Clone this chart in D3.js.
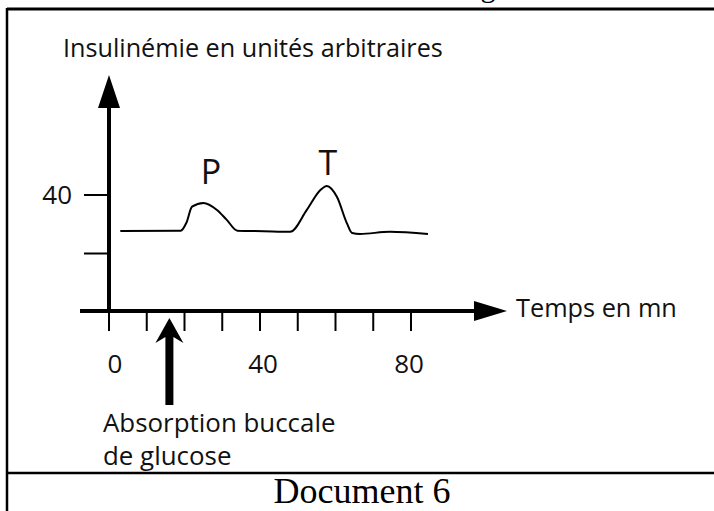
<!DOCTYPE html>
<head>
    <meta charset="UTF-8">
    <title>Document 6</title>
</head>
<style>
    body {
        margin: 0;
        background: #fff;
    }

    .sans {
        font-family: "Open Sans", sans-serif;
        fill: #111;
    }

    .serif {
        font-family: "Liberation Serif", "Times New Roman", serif;
        fill: #000;
    }
</style>
<body>

    <script src="https://cdn.jsdelivr.net/npm/d3@7"></script>
    <script>
        var temps = [3, 19, 20.5, 22, 25, 28.6, 31.2, 34, 41, 48, 52.4, 56, 57.7, 60.4, 63, 64.4, 66.5, 74.4, 84.5];
        var insuline = [27.7, 27.8, 30.5, 36, 37.3, 34.9, 31.5, 27.8, 27.6, 27.4, 34.9, 41.7, 43.1, 39.3, 30.4, 27, 26.7, 27.4, 26.7];

        var xTicks = [0, 10, 20, 30, 40, 50, 60, 70, 80];
        var xTickLabels = [0, 40, 80];
        var yTicks = [20, 40];
        var yTickLabels = [40];

        // pics annotés
        var pics = [
            {nom: "P", t: 27, v: 43.8},
            {nom: "T", t: 58, v: 46.8}
        ];

        var width = 714, height = 511;

        var svg = d3.select("body").append("svg")
            .attr("width", width)
            .attr("height", height);

        // échelles
        var x = d3.scaleLinear().domain([0, 80]).range([109, 411]);
        var y = d3.scaleLinear().domain([0, 40]).range([312, 195]);

        // cadre du tableau
        svg.append("line").attr("x1", 7).attr("x2", width).attr("y1", 9).attr("y2", 9)
            .attr("stroke", "#000").attr("stroke-width", 3);
        svg.append("line").attr("x1", 7).attr("x2", 7).attr("y1", 8).attr("y2", height)
            .attr("stroke", "#000").attr("stroke-width", 2.5);
        svg.append("line").attr("x1", 7).attr("x2", width).attr("y1", 473).attr("y2", 473)
            .attr("stroke", "#000").attr("stroke-width", 2.5);

        // reste d'un "g" coupé au-dessus du cadre
        svg.append("text").attr("class", "serif")
            .attr("x", 488).attr("y", -3)
            .attr("text-anchor", "middle")
            .style("font-size", "30px")
            .text("g");

        // axes avec flèches
        var axe = svg.append("g");
        axe.append("line")
            .attr("x1", x(0)).attr("x2", x(0))
            .attr("y1", y(0) - 1).attr("y2", 100)
            .attr("stroke", "#000").attr("stroke-width", 4);
        axe.append("path")
            .attr("d", "M" + x(0) + ",75 L" + (x(0) + 11) + ",108 L" + (x(0) - 11) + ",108 Z")
            .attr("fill", "#000");

        axe.append("line")
            .attr("x1", 80).attr("x2", 480)
            .attr("y1", 311).attr("y2", 311)
            .attr("stroke", "#000").attr("stroke-width", 4);
        axe.append("path")
            .attr("d", "M507,311 L474,301 L474,321 Z")
            .attr("fill", "#000");

        // graduations
        axe.selectAll(".xtick")
            .data(xTicks)
            .enter().append("line")
            .attr("class", "xtick")
            .attr("x1", function(d) { return x(d); })
            .attr("x2", function(d) { return x(d); })
            .attr("y1", 311).attr("y2", 331)
            .attr("stroke", "#000").attr("stroke-width", 2);

        axe.selectAll(".xlabel")
            .data(xTickLabels)
            .enter().append("text")
            .attr("class", "sans xlabel")
            .attr("x", function(d) { return x(d) + (d === 0 ? 6 : d === 40 ? 3 : -2); })
            .attr("y", 373)
            .attr("text-anchor", "middle")
            .style("font-size", "26px")
            .text(function(d) { return d; });

        axe.selectAll(".ytick")
            .data(yTicks)
            .enter().append("line")
            .attr("class", "ytick")
            .attr("x1", 84).attr("x2", x(0))
            .attr("y1", function(d) { return y(d); })
            .attr("y2", function(d) { return y(d); })
            .attr("stroke", "#000").attr("stroke-width", 2);

        axe.selectAll(".ylabel")
            .data(yTickLabels)
            .enter().append("text")
            .attr("class", "sans ylabel")
            .attr("x", 72)
            .attr("y", function(d) { return y(d); })
            .attr("dy", "0.36em")
            .attr("text-anchor", "end")
            .style("font-size", "26px")
            .text(function(d) { return d; });

        // titres des axes
        svg.append("text").attr("class", "sans")
            .attr("x", 63).attr("y", 57)
            .style("font-size", "25.2px")
            .text("Insulinémie en unités arbitraires");

        svg.append("text").attr("class", "sans")
            .attr("x", 516).attr("y", 317)
            .style("font-size", "25.3px")
            .text("Temps en mn");

        // courbe
        var line = d3.line()
            .x(function(d) { return x(d[0]); })
            .y(function(d) { return y(d[1]); })
            .curve(d3.curveMonotoneX);

        svg.append("path")
            .datum(d3.zip(temps, insuline))
            .attr("d", line)
            .attr("fill", "none")
            .attr("stroke", "#000")
            .attr("stroke-width", 2);

        svg.selectAll(".pic")
            .data(pics)
            .enter().append("text")
            .attr("class", "sans pic")
            .attr("x", function(d) { return x(d.t); })
            .attr("y", function(d) { return y(d.v); })
            .attr("text-anchor", "middle")
            .style("font-size", "34px")
            .text(function(d) { return d.nom; });

        // flèche d'absorption du glucose
        var ax = x(16);
        svg.append("path")
            .attr("d", "M" + ax + ",318 L" + (ax + 14) + ",343 L" + (ax + 4) + ",337 L" + (ax + 4) + ",405" +
                " L" + (ax - 4) + ",405 L" + (ax - 4) + ",337 L" + (ax - 14) + ",343 Z")
            .attr("fill", "#000");

        svg.append("text").attr("class", "sans")
            .attr("x", 103).attr("y", 432)
            .style("font-size", "25.9px")
            .text("Absorption buccale");
        svg.append("text").attr("class", "sans")
            .attr("x", 103).attr("y", 465)
            .style("font-size", "25.9px")
            .text("de glucose");

        svg.append("text").attr("class", "serif")
            .attr("x", 362).attr("y", 503)
            .attr("text-anchor", "middle")
            .style("font-size", "36px")
            .text("Document 6");

    </script>
</body>
</html>
